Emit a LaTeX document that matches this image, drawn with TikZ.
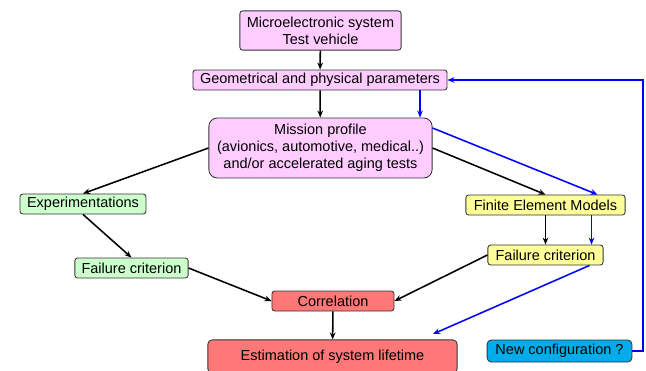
\documentclass[tikz,border=0pt]{standalone}
\usepackage{fontspec}
\setmainfont{Liberation Sans}
\usetikzlibrary{arrows.meta}
\definecolor{boxpink}{RGB}{255,204,255}
\definecolor{boxgreen}{RGB}{204,255,204}
\definecolor{boxyellow}{RGB}{255,255,153}
\definecolor{boxred}{RGB}{255,119,119}
\definecolor{boxcyan}{RGB}{0,172,235}

\begin{document}
\begin{tikzpicture}[x=0.025cm, y=-0.025cm,
    box/.style={draw=black!80, line width=0.6pt, rounded corners=2pt, inner sep=1pt,
        align=center, font=\fontsize{10.3}{12}\selectfont},
    link/.style={line width=1.1pt, -{Stealth[length=5pt,width=4pt]}},
    bluelink/.style={link, blue}]
    \useasboundingbox (0,0) rectangle (646,370);
    %% Upper part
    \node[box, fill=boxpink, minimum width=4.03cm, minimum height=0.98cm] (system) at (320.5,30.5) {Microelectronic system\\Test vehicle};
    \node[box, fill=boxpink, minimum width=6.35cm, minimum height=0.5cm] (param) at (320,80) {Geometrical and physical parameters};
    \node[box, fill=boxpink, rounded corners=6pt, minimum width=5.58cm, minimum height=1.5cm] (mission) at (320.5,148) {Mission profile\\(avionics, automotive, medical..)\\and/or accelerated aging tests};
    %% Left branch
    \node[box, fill=boxgreen, minimum width=3.15cm, minimum height=0.5cm] (exper) at (83,204) {Experimentations};
    \node[box, fill=boxgreen, minimum width=2.83cm, minimum height=0.5cm] (failL) at (131.5,268) {Failure criterion};
    %% Right branch
    \node[box, fill=boxyellow, minimum width=3.98cm, minimum height=0.5cm] (fem) at (545.5,205) {Finite Element Models};
    \node[box, fill=boxyellow, minimum width=2.88cm, minimum height=0.5cm] (failR) at (545.5,255) {Failure criterion};
    %% Bottom
    \node[box, fill=boxred, minimum width=3.05cm, minimum height=0.5cm] (corr) at (333,301) {Correlation};
    \node[box, fill=boxred, rounded corners=3pt, minimum width=6.23cm, minimum height=0.83cm] (estim) at (332.5,356.5) {Estimation of system lifetime};
    \node[box, fill=boxcyan, rounded corners=3pt, minimum width=3.62cm, minimum height=0.55cm] (newcfg) at (559.5,351) {New configuration ?};
    \coordinate (loopcorner) at (643,80);
    \coordinate (blueend) at (433,334);

    %% Black arrows
    \draw[link] (system) -- (param);
    \draw[link] (param) -- (mission);
    \draw[link] (mission.west) -- (exper.north);
    \draw[link] (exper.south) -- (failL.north);
    \draw[link] (failL.east) -- (corr.west);
    \draw[link] (mission.east) -- (fem.north);
    \draw[link] (fem) -- (failR);
    \draw[link] (failR.west) -- (corr.east);
    \draw[link] (corr) -- (estim);
    %% Blue arrows
    \draw[bluelink] ([xshift=2.5cm]param.south) -- ([xshift=2.5cm]param.south |- mission.north);
    \draw[bluelink] ([yshift=0.5cm]mission.east) -- ([xshift=1.3cm]fem.north);
    \draw[bluelink] ([xshift=1.15cm]fem.south) -- ([xshift=1.15cm]failR.north);
    \draw[bluelink] ([xshift=1.1cm]failR.south) -- (blueend);
    \draw[bluelink] (newcfg.east) -| (loopcorner) -- (param.east);
\end{tikzpicture}
\end{document}
